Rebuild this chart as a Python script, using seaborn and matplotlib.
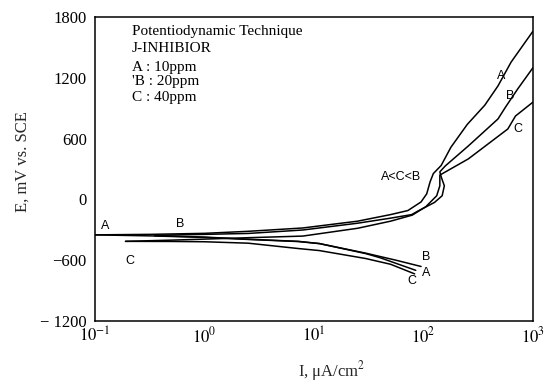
import matplotlib
matplotlib.use("Agg")
import matplotlib.pyplot as plt
import seaborn as sns
import pandas as pd
from matplotlib.ticker import LogLocator, NullFormatter, FixedLocator

# ---- data ----
A_an_I = [0.1, 0.32, 1, 2.5, 7.9, 25, 50, 72, 95, 107, 115, 123, 145, 178, 251, 363, 479, 631, 1000]
A_an_E = [-350, -345, -335, -315, -282, -215, -150, -110, -25, 55, 175, 255, 335, 515, 740, 930, 1120, 1355, 1660]

B_an_I = [0.35, 1, 2.5, 7.9, 25, 50, 78, 89, 126, 148, 155, 145, 141, 158, 257, 479, 562, 724, 1000]
B_an_E = [-355, -345, -336, -302, -235, -185, -150, -115, -30, 36, 134, 223, 272, 330, 528, 794, 912, 1089, 1300]

C_an_I = [0.19, 0.5, 1, 2.5, 7.9, 25, 50, 79, 105, 132, 141, 141, 257, 589, 692, 1000]
C_an_E = [-414, -402, -392, -378, -362, -285, -215, -155, -72, 36, 134, 240, 400, 695, 823, 960]

A_ca_I = [0.1, 0.32, 1, 2.5, 7.2, 11.2, 29.5, 40, 85]
A_ca_E = [-350, -360, -375, -395, -416, -436, -534, -575, -700]

B_ca_I = [0.35, 1, 2.5, 7.2, 11.2, 29.5, 56, 95]
B_ca_E = [-358, -372, -393, -414, -436, -530, -600, -662]

C_ca_I = [0.19, 0.5, 1, 2.5, 7.2, 11.2, 29.5, 50, 83]
C_ca_E = [-414, -415, -418, -432, -485, -505, -583, -640, -735]

y_ticks = [-1200, -600, 0, 600, 1200, 1800]
y_ticklabels = ["\u2212 1200", "\u2212600", "0", "600", "1200", "1800"]
x_ticks = [0.1, 1, 10, 100, 1000]
x_ticklabels = [r"$10^{-1}$", r"$10^{0}$", r"$10^{1}$", r"$10^{2}$", r"$10^{3}$"]

legend_lines = ["Potentiodynamic Technique", "J-INHIBIOR", "A : 10ppm", "'B : 20ppm", "C : 40ppm"]

branches = {
    "A_an": (A_an_I, A_an_E), "B_an": (B_an_I, B_an_E), "C_an": (C_an_I, C_an_E),
    "A_ca": (A_ca_I, A_ca_E), "B_ca": (B_ca_I, B_ca_E), "C_ca": (C_ca_I, C_ca_E),
}

sns.set_style("white")
plt.rcParams["font.family"] = ["Liberation Serif", "DejaVu Serif"]
plt.rcParams["mathtext.fontset"] = "stix"

fig = plt.figure(figsize=(5.57, 3.87), dpi=100)
ax = fig.add_axes([95/557, 1-321/387, 438/557, 304/387])

for name, (I, E) in branches.items():
    df = pd.DataFrame({"I": I, "E": E})
    sns.lineplot(data=df, x="I", y="E", sort=False, estimator=None,
                 color="black", linewidth=1.1, ax=ax)

ax.set_xscale("log")
ax.set_xlim(0.1, 1000)
ax.set_ylim(-1200, 1800)

ax.xaxis.set_major_locator(FixedLocator(x_ticks))
ax.set_xticklabels(x_ticklabels, fontsize=12)
ax.xaxis.set_minor_locator(LogLocator(base=10, subs=range(2, 10), numticks=20))
ax.xaxis.set_minor_formatter(NullFormatter())
ax.set_yticks(y_ticks)
ax.set_yticklabels(y_ticklabels, fontsize=12)

ax.tick_params(axis="both", which="major", direction="in", length=5, width=0.9, colors="black", pad=6)
ax.tick_params(axis="x", which="minor", direction="in", length=3, width=0.8, colors="black")
ax.tick_params(axis="x", which="major", pad=4)

for s in ax.spines.values():
    s.set_color("black")
    s.set_linewidth(1.1)

ax.set_xlabel("I, \u03bcA/cm$^2$", fontsize=12)
ax.set_ylabel("E, mV vs. SCE", fontsize=12)
ax.xaxis.set_label_coords((332-95)/438, -0.125)
ax.yaxis.set_label_coords((31-95)/438, 0.523)

# legend text block
ys = [32, 49, 67, 82, 97]
for txt, yp in zip(legend_lines, ys):
    ax.text((132-95)/438, (321-yp)/304, txt, transform=ax.transAxes,
            fontsize=11, va="center", ha="left", color="black")

# curve labels
lab_font = dict(family=["Liberation Sans Narrow", "Liberation Sans", "DejaVu Sans"], fontsize=9,
                color="black", ha="center", va="center")
labels = [
    ("A", 0.123, -262), ("B", 0.6, -245), ("C", 0.21, -603),
    ("A<C<B", 63, 223),
    ("A", 513, 1217), ("B", 617, 1020), ("C", 724, 695),
    ("B", 105, -564), ("A", 105, -731), ("C", 78, -810),
]
for t, x, y in labels:
    ax.text(x, y, t, **lab_font)

fig.savefig("out.png", dpi=100)
